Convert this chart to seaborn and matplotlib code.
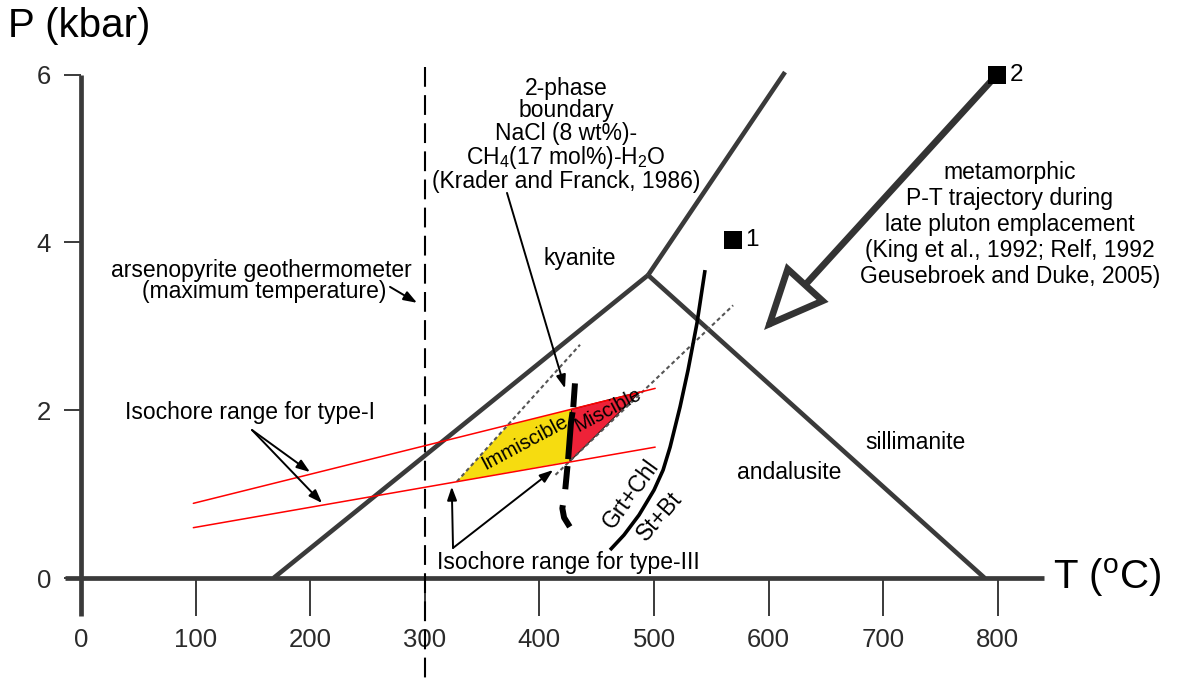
import matplotlib
matplotlib.use("Agg")
import matplotlib.pyplot as plt
import seaborn as sns
from matplotlib import font_manager
from matplotlib.patches import FancyArrowPatch, ArrowStyle

# ---------------- data (T in degC, P in kbar) ----------------
t_ticks = [0, 100, 200, 300, 400, 500, 600, 700, 800]
p_ticks = [0, 2, 4, 6]

# Al2SiO5 phase boundaries meeting at the triple point
ky_and_T = [168.0, 494.8]
ky_and_P = [0.0, 3.61]
ky_sil_T = [494.8, 614.3]
ky_sil_P = [3.61, 6.03]
and_sil_T = [494.8, 788.5]
and_sil_P = [3.61, 0.0]

# arsenopyrite geothermometer (maximum temperature)
asp_T = [300, 300]
asp_P = [6.09, -1.4]

# isochores of type-I inclusions
iso1_T = [98, 501]
iso1_upper_P = [0.89, 2.26]
iso1_lower_P = [0.60, 1.56]

# isochores of type-III inclusions
iso3_a_T = [328, 435.4]
iso3_a_P = [1.15, 2.78]
iso3_b_T = [414, 569]
iso3_b_P = [1.23, 3.25]

# immiscible / miscible fields of the fluid
immiscible_T = [328, 372.5, 428, 426.5]
immiscible_P = [1.15, 1.82, 2.01, 1.39]
miscible_T = [428, 488, 426.5]
miscible_P = [2.01, 2.22, 1.39]

# 2-phase boundary NaCl-CH4-H2O
two_phase_T = [431, 429.5, 427.5, 425, 422.5, 420, 421.5, 426.5]
two_phase_P = [2.32, 2.03, 1.85, 1.41, 1.05, 0.83, 0.72, 0.61]

# Grt+Chl = St+Bt reaction curve
grt_T = [544.5, 537.5, 529.7, 522.7, 514.0, 507.9, 500.0, 486.9, 473.8, 461.6]
grt_P = [3.67, 3.04, 2.48, 2.04, 1.56, 1.287, 1.049, 0.751, 0.513, 0.334]

# P-T sites and metamorphic trajectory
site_T = [568.9, 799.3]
site_P = [4.03, 6.0]
site_labels = ["1", "2"]
traj_T = [799.3, 596.0]
traj_P = [6.0, 2.956]

# pointer arrows (start, tip)
boundary_arrow_T = [371.7, 422.3]
boundary_arrow_P = [4.59, 2.26]
asp_arrow_T = [269.6, 293.2]
asp_arrow_P = [3.47, 3.28]
type1_from = (149.2, 1.764)
type1_tips_T = [199.8, 210.3]
type1_tips_P = [1.263, 0.894]
type3_from = (324.6, 0.358)
type3_tips_T = [323.5, 411.9]
type3_tips_P = [1.088, 1.287]

# ---------------- style ----------------
sns.set_theme(style="white")
plt.rcParams["font.family"] = ["Liberation Sans", "DejaVu Sans"]
plt.rcParams["mathtext.fontset"] = "custom"
plt.rcParams["mathtext.rm"] = "Liberation Sans"
plt.rcParams["mathtext.it"] = "Liberation Sans:italic"
plt.rcParams["mathtext.bf"] = "Liberation Sans:bold"

installed = {f.name for f in font_manager.fontManager.ttflist}
if "Liberation Sans Narrow" in installed:
    tick_family, tick_size = "Liberation Sans Narrow", 22
else:
    tick_family, tick_size = "Liberation Sans", 18.5

GREY = "#3a3a3a"
YELLOW = "#f6dc10"
RED_FILL = "#ee2238"
ANN = 16.5

fig = plt.figure(figsize=(11.78, 6.85), dpi=100)
ax = fig.add_axes([0, 0, 1, 1])
ax.set_xlim(-70.7, 957.2)
ax.set_ylim(-1.275, 6.889)
ax.set_facecolor("white")


def trace(T, P, **kw):
    sns.lineplot(x=T, y=P, sort=False, estimator=None, ax=ax, legend=False, **kw)


# axes drawn as crossing lines through the origin
for side in ["top", "right"]:
    ax.spines[side].set_visible(False)
ax.spines["bottom"].set_position(("data", 0))
ax.spines["left"].set_position(("data", 0))
ax.spines["bottom"].set_bounds(-14, 840)
ax.spines["left"].set_bounds(-0.45, 6.0)
for side in ["bottom", "left"]:
    ax.spines[side].set_linewidth(3.4)
    ax.spines[side].set_color(GREY)
    ax.spines[side].set_capstyle("butt")
    ax.spines[side].set_zorder(2.5)

ax.set_xticks(t_ticks)
ax.set_xticklabels([str(t) for t in t_ticks])
ax.set_yticks(p_ticks)
ax.set_yticklabels([str(p) for p in p_ticks])
ax.tick_params(axis="x", bottom=True, direction="out", length=27, width=1.4,
               color=GREY, pad=9, labelsize=tick_size, labelcolor="#2a2a2a")
ax.tick_params(axis="y", left=True, direction="out", length=12.5, width=1.4,
               color=GREY, pad=9, labelsize=tick_size, labelcolor="#2a2a2a")
for lab in ax.get_xticklabels() + ax.get_yticklabels():
    lab.set_fontfamily(tick_family)
ax.grid(False)

# axis titles
ax.text(-63.7, 6.58, "P (kbar)", fontsize=29, ha="left", va="center", color="black")
ax.text(848, 0.0, r"T ($^\mathregular{o}$C)", fontsize=29, ha="left", va="center",
        color="black")

# aluminosilicate boundaries
for T, P in [(ky_and_T, ky_and_P), (ky_sil_T, ky_sil_P), (and_sil_T, and_sil_P)]:
    trace(T, P, color=GREY, lw=3.3, zorder=2.6, solid_capstyle="butt")

# arsenopyrite temperature
trace(asp_T, asp_P, color="black", lw=1.5, linestyle=(0, (9.5, 4)), zorder=3,
      dash_capstyle="butt")

# fluid fields
ax.fill(immiscible_T, immiscible_P, color=YELLOW, lw=0, zorder=2)
ax.fill(miscible_T, miscible_P, facecolor=RED_FILL, edgecolor="#3a1010", lw=0.8, zorder=2)

# isochores
trace(iso1_T, iso1_upper_P, color="#ff0000", lw=1.1, zorder=3.2)
trace(iso1_T, iso1_lower_P, color="#ff0000", lw=1.1, zorder=3.2)
trace(iso3_a_T, iso3_a_P, color="#555555", lw=1.5, linestyle=(0, (1.9, 1.45)), zorder=3)
trace(iso3_b_T, iso3_b_P, color="#555555", lw=1.5, linestyle=(0, (1.9, 1.45)), zorder=3)

# 2-phase boundary
trace(two_phase_T, two_phase_P, color="black", lw=4.3,
      linestyle=(0, (4.0, 0.84, 7.9, 1.17, 3.9, 2.7, 4.6, 20)),
      dash_capstyle="butt", zorder=4)

# Grt+Chl = St+Bt
trace(grt_T, grt_P, color="black", lw=2.6, solid_capstyle="butt", zorder=4)

# metamorphic P-T trajectory
traj = FancyArrowPatch((traj_T[0], traj_P[0]), (traj_T[1], traj_P[1]),
                       arrowstyle=ArrowStyle("-|>", head_length=38, head_width=17),
                       mutation_scale=1, lw=4.8, edgecolor="#333333", facecolor="white",
                       shrinkA=0, shrinkB=0, joinstyle="miter", zorder=4)
ax.add_patch(traj)

# P-T sites
sns.scatterplot(x=site_T, y=site_P, marker="s", s=182, color="black", linewidth=0,
                ax=ax, legend=False, zorder=6)
for T, P, lab in zip(site_T, site_P, site_labels):
    ax.text(T + 11, P, lab, fontsize=ANN + 1, ha="left", va="center", color="black")

# pointer arrows
small_head = dict(arrowstyle="-|>,head_length=0.5,head_width=0.18", color="black",
                  lw=1.4, mutation_scale=16, shrinkA=0, shrinkB=0)
ax.annotate("", xy=(boundary_arrow_T[1], boundary_arrow_P[1]),
            xytext=(boundary_arrow_T[0], boundary_arrow_P[0]), arrowprops=small_head, zorder=5)
ax.annotate("", xy=(asp_arrow_T[1], asp_arrow_P[1]),
            xytext=(asp_arrow_T[0], asp_arrow_P[0]), arrowprops=small_head, zorder=5)
for T, P in zip(type1_tips_T, type1_tips_P):
    ax.annotate("", xy=(T, P), xytext=type1_from, arrowprops=small_head, zorder=5)
for T, P in zip(type3_tips_T, type3_tips_P):
    ax.annotate("", xy=(T, P), xytext=type3_from, arrowprops=small_head, zorder=5)

# labels
ax.text(423.2, 5.28,
        "2-phase\nboundary\nNaCl (8 wt%)-\n"
        r"CH$_\mathregular{4}$(17 mol%)-H$_\mathregular{2}$O" "\n(Krader and Franck, 1986)",
        fontsize=ANN, ha="center", va="center", linespacing=0.97, color="black")
ax.text(810.6, 4.21,
        "metamorphic\nP-T trajectory during\nlate pluton emplacement\n"
        "(King et al., 1992; Relf, 1992\nGeusebroek and Duke, 2005)",
        fontsize=ANN, ha="center", va="center", linespacing=1.17, color="black")
ax.text(288.8, 3.671, "arsenopyrite geothermometer", fontsize=ANN, ha="right",
        va="center", color="black")
ax.text(266.1, 3.409, "(maximum temperature)", fontsize=ANN, ha="right",
        va="center", color="black")
ax.text(38.4, 1.967, "Isochore range for type-I", fontsize=ANN, ha="left",
        va="center", color="black")
ax.text(310.6, 0.19, "Isochore range for type-III", fontsize=ANN, ha="left",
        va="center", color="black")
ax.text(435.4, 3.81, "kyanite", fontsize=ANN, ha="center", va="center", color="black")
ax.text(572.4, 1.263, "andalusite", fontsize=ANN, ha="left", va="center", color="black")
ax.text(684.0, 1.61, "sillimanite", fontsize=ANN, ha="left", va="center", color="black")
ax.text(387.4, 1.61, "Immiscible", fontsize=14.5, rotation=28, rotation_mode="anchor",
        ha="center", va="center", color="black", zorder=5)
ax.text(459.9, 2.0, "Miscible", fontsize=14.5, rotation=28, rotation_mode="anchor",
        ha="center", va="center", color="black", zorder=5)
ax.text(480.0, 1.0, "Grt+Chl", fontsize=ANN, rotation=54, rotation_mode="anchor",
        ha="center", va="center", color="black")
ax.text(505.2, 0.73, "St+Bt", fontsize=ANN, rotation=49, rotation_mode="anchor",
        ha="center", va="center", color="black")

fig.savefig("out.png", dpi=100, facecolor="white")
